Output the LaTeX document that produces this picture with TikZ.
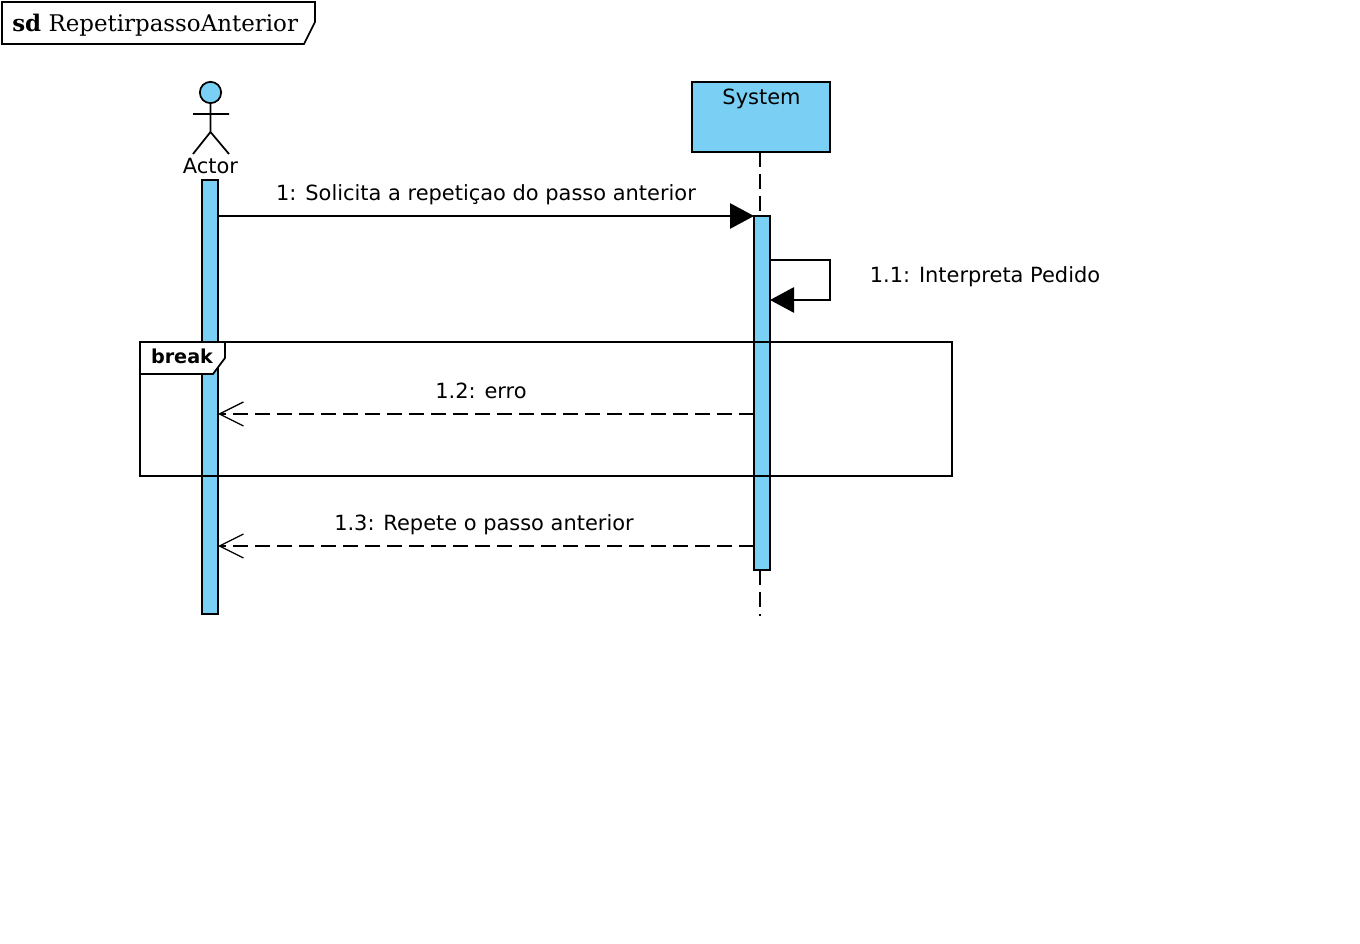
\documentclass[tikz,border=0pt]{standalone}
\usepackage{fontspec}
\setmainfont{DejaVu Sans}
\newfontfamily\titlefont{DejaVu Serif}
\usetikzlibrary{arrows.meta}
\definecolor{umlblue}{RGB}{122,207,245}
\newcommand{\lbl}{\node[msglabel]}
\newcommand{\actn}{\node[actbar]}
\tikzset{
    umlline/.style={line width=1.3pt, black},
    msglabel/.style={inner sep=0pt, font=\fontsize{15.7}{18}\selectfont, anchor=base},
    actbar/.style={draw, umlline, fill=umlblue, inner sep=0pt, outer sep=0pt, minimum width=12pt, anchor=north},
    callmsg/.style={umlline, -{Triangle[length=18pt,width=19pt]}},
    retmsg/.style={umlline, dash pattern=on 11pt off 5.5pt, -{Straight Barb[length=18pt,width=18pt,line width=1pt]}},
    lifeline/.style={umlline, dash pattern=on 11pt off 5.5pt},
    tagbox/.style={draw, umlline, fill=white}
}
\begin{document}
\begin{tikzpicture}[x=0.75pt, y=-0.75pt]
            \useasboundingbox (0,0) rectangle (1360,944);

            % diagram tag
            \draw[tagbox] (2,2) -- (315,2) -- (315,22) -- (304,44) -- (2,44) -- cycle;
            \node[inner sep=0pt, anchor=base west, font=\titlefont\fontsize{17.2}{18}\selectfont] (title) at (12,32) {\textbf{sd} RepetirpassoAnterior};

            % actor
            \node[circle, draw, umlline, fill=umlblue, inner sep=0pt, outer sep=0pt, minimum size=16pt] (head) at (210.5,92.5) {};
            \coordinate (hip) at (210.5,132);
            \coordinate (armL) at (193,114);
            \coordinate (armR) at (229,114);
            \coordinate (footL) at (193,154);
            \coordinate (footR) at (229,154);
            \draw[umlline] (head) -- (hip) (armL) -- (armR) (footL) -- (hip) -- (footR);
            \lbl (actor) at (210.5,174) {Actor};

            % system
            \node[draw, umlline, fill=umlblue, inner sep=0pt, outer sep=0pt, minimum width=103.5pt, minimum height=52.5pt, anchor=north west] (sys) at (692,82) {};
            \lbl (systxt) at (761.5,105) {System};
            \coordinate (lifeend) at (760,616);
            \draw[lifeline] (sys.south -| lifeend) -- (lifeend);

            % activations
            \actn[minimum height=325.5pt] (actbar) at (210,180) {};
            \actn[minimum height=265.5pt] (sysbar) at (762,216) {};

            % messages
            \draw[callmsg] (actbar.east |- sysbar.north) -- (sysbar.north west);
            \lbl (m1) at (486,200.5) {1: Solicita a repetiçao do passo anterior};

            \coordinate (selfA) at (770,260);
            \coordinate (selfB) at (830,260);
            \coordinate (selfC) at (830,300);
            \coordinate (selfD) at (770,300);
            \draw[callmsg] (selfA) -- (selfB) -- (selfC) -- (selfD);
            \lbl (m11) at (985,282.5) {1.1: Interpreta Pedido};

            % break fragment
            \node[draw, umlline, inner sep=0pt, outer sep=0pt, minimum width=609pt, minimum height=100.5pt, anchor=north west] (frag) at (140,342) {};
            \draw[tagbox] (frag.north west) -- (225,342) -- (225,358) -- (213,374) -- (140,374) -- cycle;
            \node[inner sep=0pt, anchor=base, font=\fontsize{14.4}{16}\bfseries\selectfont] (fragtxt) at (182,364) {break};

            \coordinate (errA) at (754,414);
            \draw[retmsg] (errA) -- (errA -| actbar.east);
            \lbl (m12) at (481,398.5) {1.2: erro};

            \coordinate (repA) at (754,546);
            \draw[retmsg] (repA) -- (repA -| actbar.east);
            \lbl (m13) at (484,530.5) {1.3: Repete o passo anterior};
        \end{tikzpicture}
\end{document}
